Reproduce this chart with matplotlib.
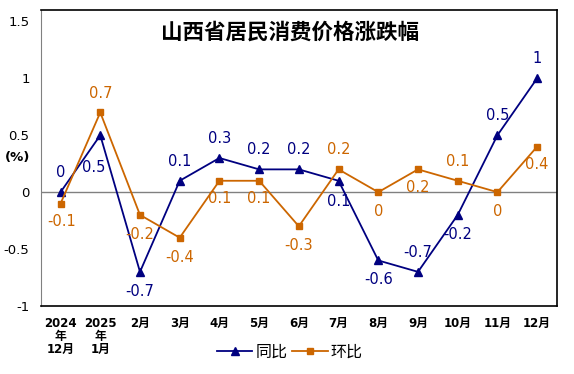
import matplotlib
matplotlib.use("Agg")
import matplotlib.pyplot as plt

plt.rcParams['font.family'] = ['DejaVu Sans', 'Noto Sans CJK SC']

months = ["2024\n年\n12月", "2025\n年\n1月", "2月", "3月", "4月", "5月", "6月",
          "7月", "8月", "9月", "10月", "11月", "12月"]
yoy = [0, 0.5, -0.7, 0.1, 0.3, 0.2, 0.2, 0.1, -0.6, -0.7, -0.2, 0.5, 1]
mom = [-0.1, 0.7, -0.2, -0.4, 0.1, 0.1, -0.3, 0.2, 0, 0.2, 0.1, 0, 0.4]

# label placement: offset in points from the marker
yoy_off = [(0, 14), (-5, -23), (0, -14), (0, 14), (0, 14), (0, 14), (0, 14),
           (0, -15), (0, -14), (0, 14), (0, -14), (0, 14), (0, 14)]
mom_off = [(1, -13), (0, 14), (0, -14), (0, -14), (0, -13), (0, -13), (0, -14),
           (0, 14), (0, -14), (0, -13), (0, 14), (0, -14), (0, -13)]

navy = "#000080"
orange = "#CC6600"

fig = plt.figure(figsize=(5.74, 3.74), dpi=100)
ax = fig.add_axes([40.7 / 574, 1 - 306 / 374, (557 - 40.7) / 574, (306 - 10) / 374])

x = list(range(len(months)))
ax.axhline(0, color="#808080", lw=1, zorder=1)
ax.plot(x, yoy, color=navy, lw=1.3, marker="^", markersize=6, label="同比", zorder=3)
ax.plot(x, mom, color=orange, lw=1.3, marker="s", markersize=5, label="环比", zorder=3)

for i, v in enumerate(yoy):
    ax.annotate(f"{v:g}", (i, v), xytext=yoy_off[i], textcoords="offset points",
                ha="center", va="center", fontsize=10.5, color=navy)
for i, v in enumerate(mom):
    ax.annotate(f"{v:g}", (i, v), xytext=mom_off[i], textcoords="offset points",
                ha="center", va="center", fontsize=10.5, color=orange)

ax.set_xlim(-0.5, 12.5)
ax.set_ylim(-1, 1.6)
ax.set_yticks([-1, -0.5, 0, 0.5, 1, 1.5])
ax.set_yticklabels(["-1", "-0.5", "0", "0.5", "1", "1.5"])
ax.set_xticks(x)
ax.set_xticklabels(months, fontsize=8.5, linespacing=1.0)
for lbl in ax.get_xticklabels():
    lbl.set_fontweight("semibold")
ax.tick_params(axis="y", length=0, labelsize=9.5, pad=8)
ax.tick_params(axis="x", length=0, pad=8)

ax.spines["left"].set_color("#808080")
for s in ["top", "right", "bottom"]:
    ax.spines[s].set_color("black")
    ax.spines[s].set_linewidth(1.2)

ax.text(0.483, 0.925, "山西省居民消费价格涨跌幅", transform=ax.transAxes,
        ha="center", va="center", fontsize=15.5, fontweight="bold",
        family=["Noto Sans CJK SC", "DejaVu Sans"])
fig.text(18 / 574, 1 - 158 / 374, "(%)", ha="center", va="center",
         fontsize=9.5, fontweight="bold")

fig.legend(loc="center", bbox_to_anchor=(290 / 574, 1 - 352 / 374), ncol=2,
           frameon=False, fontsize=11.5, handlelength=2.2, columnspacing=0.3,
           handletextpad=0.2)

fig.savefig("out.png", dpi=100)
